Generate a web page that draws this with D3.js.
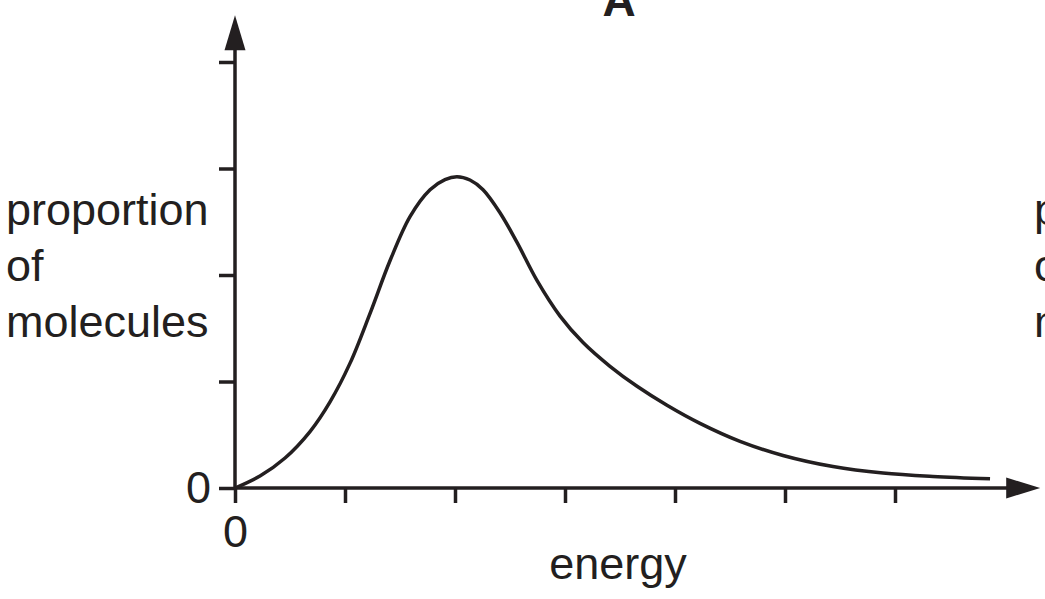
<!DOCTYPE html>
<html>
<head>
<meta charset="utf-8">
<script src="https://cdn.jsdelivr.net/npm/d3@7"></script>
<style>
  html, body { margin: 0; padding: 0; background: #fff; }
  svg { display: block; }
  text { font-family: "Liberation Sans", Arial, sans-serif; fill: #231f20; }
</style>
</head>
<body>
<div class="chart_container"></div>
<script>
// data - energy distribution curve
const energy = [0, 0.227, 0.455, 0.682, 0.864, 1.045, 1.227, 1.409, 1.591, 1.773, 1.909, 2.018,
    2.136, 2.255, 2.409, 2.564, 2.745, 2.955, 3.164, 3.409, 3.655, 3.927, 4.227, 4.591, 4.982, 5.436,
    5.891, 6.345, 6.864]
const proportion = [0, 0.113, 0.282, 0.530, 0.809, 1.170, 1.638, 2.134, 2.549, 2.801, 2.896, 2.923,
    2.892, 2.801, 2.585, 2.306, 1.949, 1.614, 1.366, 1.143, 0.955, 0.777, 0.607, 0.438, 0.305, 0.201,
    0.140, 0.108, 0.086]
const xTicks = [0, 1, 2, 3, 4, 5, 6]
const yTicks = [0, 1, 2, 3, 4]
const yLabelLines = ['proportion', 'of', 'molecules']
const xLabel = 'energy'
const title = 'A'

const ink = '#231f20'
const svg_width = 1045
const svg_height = 599
const fontSize = 45

const svg = d3.select('.chart_container').append('svg')
    .attr('width', svg_width).attr('height', svg_height)

// scales: one x unit = 110px, one y unit = 106.5px
const xScale = d3.scaleLinear().domain([0, 7]).range([235, 1005])
const yScale = d3.scaleLinear().domain([0, 4]).range([488, 62])
const xEnd = 7.32   // arrow tip
const yEnd = 4.44

// axes (ticks only, domain drawn by hand with arrows)
const xAxis = d3.axisBottom(xScale).tickValues(xTicks).tickSize(15).tickPadding(12)
    .tickFormat(d => d === 0 ? '0' : '')
const yAxis = d3.axisLeft(yScale).tickValues(yTicks).tickSize(16).tickPadding(8)
    .tickFormat(d => d === 0 ? '0' : '')

const xAxisDraw = svg.append('g').attr('transform', `translate(0,${yScale(0)})`).call(xAxis)
const yAxisDraw = svg.append('g').attr('transform', `translate(${xScale(0)},0)`).call(yAxis)

;[xAxisDraw, yAxisDraw].forEach(g => {
    g.select('.domain').remove()
    g.selectAll('.tick line').attr('stroke', ink).attr('stroke-width', 3.5)
    g.selectAll('.tick text').style('font-size', fontSize + 'px')
        .style('font-family', '"Liberation Sans", Arial, sans-serif').attr('fill', ink)
})

// axis lines
svg.append('line')
    .attr('x1', xScale(0)).attr('x2', xScale(xEnd) - 20)
    .attr('y1', yScale(0)).attr('y2', yScale(0))
    .attr('stroke', ink).attr('stroke-width', 3.5)
svg.append('line')
    .attr('x1', xScale(0)).attr('x2', xScale(0))
    .attr('y1', yScale(0)).attr('y2', yScale(yEnd) + 20)
    .attr('stroke', ink).attr('stroke-width', 3.5)

// arrow heads
const xt = xScale(xEnd), y0 = yScale(0)
svg.append('path')
    .attr('d', `M${xt},${y0} L${xt - 34},${y0 - 10.5} L${xt - 34},${y0 + 10.5} Z`)
    .attr('fill', ink)
const yt = yScale(yEnd), x0 = xScale(0)
svg.append('path')
    .attr('d', `M${x0},${yt} L${x0 - 10.5},${yt + 35} L${x0 + 10.5},${yt + 35} Z`)
    .attr('fill', ink)

// curve
const points = energy.map((e, i) => ({ e: e, p: proportion[i] }))
const lineGen = d3.line().x(d => xScale(d.e)).y(d => yScale(d.p)).curve(d3.curveCatmullRom.alpha(0.5))
svg.append('path')
    .attr('d', lineGen(points))
    .attr('fill', 'none')
    .attr('stroke', ink)
    .attr('stroke-width', 3.5)

// y label (left) and cut-off label of next panel (right)
const yLabel = svg.append('text').style('font-size', fontSize + 'px')
yLabel.selectAll('tspan').data(yLabelLines).enter().append('tspan')
    .attr('x', 6).attr('y', (d, i) => 225 + i * 56).text(d => d)
const yLabel2 = svg.append('text').style('font-size', fontSize + 'px')
yLabel2.selectAll('tspan').data(yLabelLines).enter().append('tspan')
    .attr('x', 1034).attr('y', (d, i) => 225 + i * 56).text(d => d)

// x label
svg.append('text')
    .attr('x', 618).attr('y', 579)
    .attr('text-anchor', 'middle')
    .style('font-size', fontSize + 'px')
    .text(xLabel)

// header
svg.append('text')
    .attr('x', 619).attr('y', 16)
    .attr('text-anchor', 'middle')
    .style('font-size', '46px').style('font-weight', 'bold')
    .text(title)
</script>
</body>
</html>
